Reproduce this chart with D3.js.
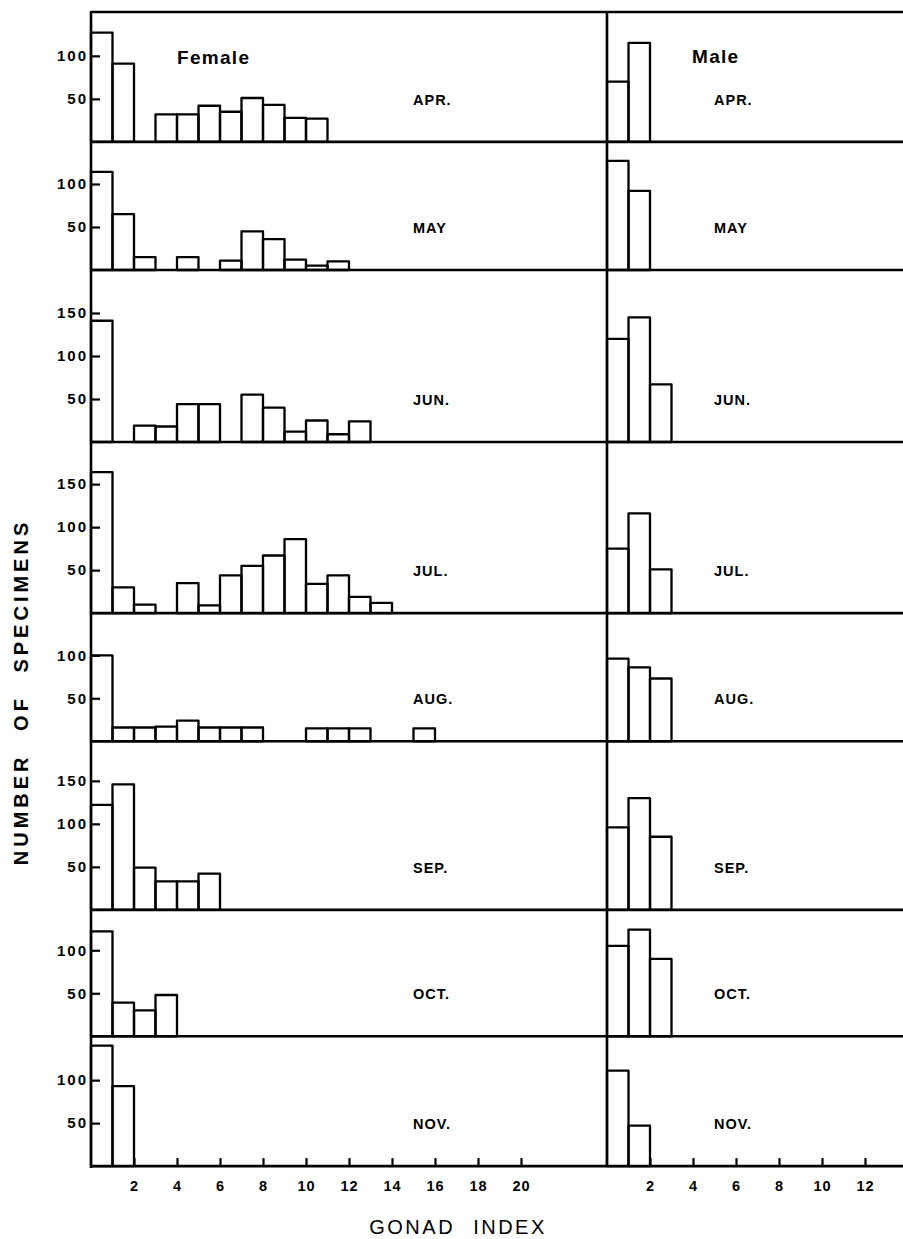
<!DOCTYPE html>
<html>
<head>
<meta charset="utf-8">
<script src="https://cdn.jsdelivr.net/npm/d3@7"></script>
<style>
  body { margin: 0; background: #fff; }
  svg { display: block; }
  text { font-family: "Liberation Sans", Arial, Helvetica, sans-serif; fill: #000; }
</style>
</head>
<body>
<script>
// Monthly frequency of gonad index classes (bin i = index i..i+1)
const months = ["APR.", "MAY", "JUN.", "JUL.", "AUG.", "SEP.", "OCT.", "NOV."];

const femaleApr = [127, 91, 0, 32, 32, 42, 35, 51, 43, 28, 27];
const femaleMay = [114, 65, 15, 0, 15, 0, 11, 45, 36, 12, 5, 10];
const femaleJun = [141, 0, 19, 18, 44, 44, 0, 55, 40, 12, 25, 9, 24];
const femaleJul = [164, 30, 10, 0, 35, 9, 44, 55, 67, 86, 34, 44, 19, 12];
const femaleAug = [100, 16, 16, 17, 24, 16, 16, 16, 0, 0, 15, 15, 15, 0, 0, 15];
const femaleSep = [122, 146, 49, 33, 33, 42];
const femaleOct = [122, 39, 30, 48];
const femaleNov = [140, 93];

const maleApr = [70, 115];
const maleMay = [127, 92];
const maleJun = [120, 145, 67];
const maleJul = [75, 116, 51];
const maleAug = [96, 86, 73];
const maleSep = [96, 130, 85];
const maleOct = [105, 124, 90];
const maleNov = [111, 47];

// Upper end of each month's count axis
const yMax = [151, 149, 200, 199, 149, 196, 147, 151];
const yTickValues = [[50, 100], [50, 100], [50, 100, 150], [50, 100, 150],
                     [50, 100], [50, 100, 150], [50, 100], [50, 100]];
const femaleXTicks = [2, 4, 6, 8, 10, 12, 14, 16, 18, 20];
const maleXTicks = [2, 4, 6, 8, 10, 12];

const femaleCounts = [femaleApr, femaleMay, femaleJun, femaleJul, femaleAug, femaleSep, femaleOct, femaleNov];
const maleCounts = [maleApr, maleMay, maleJun, maleJul, maleAug, maleSep, maleOct, maleNov];

// ---- layout ----
const W = 903, H = 1239;
const frameTop = 12, pxPerCount = 0.86;
const left = 91, split = 607, right = W;

const xF = d3.scaleLinear().domain([0, 24]).range([left, split]);
const xM = d3.scaleLinear().domain([0, (right - split) / 21.5]).range([split, right]);

const svg = d3.select("body").append("svg").attr("width", W).attr("height", H);

// row positions
const rows = [];
let cursor = frameTop;
yMax.forEach((m, i) => {
  const h = m * pxPerCount;
  rows.push({ i, rowTop: cursor, bottom: cursor + h,
              y: d3.scaleLinear().domain([0, m]).range([cursor + h, cursor]) });
  cursor += h;
});
const lastBottom = rows[rows.length - 1].bottom;

function drawBars(g, counts, x, y, bottom) {
  const bins = counts.map((v, k) => ({ k, v })).filter(d => d.v > 0);
  g.selectAll("rect").data(bins).join("rect")
    .attr("x", d => x(d.k))
    .attr("width", d => x(d.k + 1) - x(d.k))
    .attr("y", d => y(d.v))
    .attr("height", d => bottom - y(d.v))
    .attr("fill", "none")
    .attr("stroke", "#000")
    .attr("stroke-width", 2.3)
    .attr("stroke-linejoin", "round");
}

rows.forEach(r => {
  const g = svg.append("g");
  drawBars(g.append("g"), femaleCounts[r.i], xF, r.y, r.bottom);
  drawBars(g.append("g"), maleCounts[r.i], xM, r.y, r.bottom);

  // count axis: ticks point inward, labels outside
  const ax = g.append("g")
    .attr("transform", `translate(${left},0)`)
    .call(d3.axisLeft(r.y).tickValues(yTickValues[r.i]).tickSize(-9).tickPadding(3));
  ax.select(".domain").remove();
  ax.selectAll(".tick line").attr("stroke", "#000").attr("stroke-width", 2.2);
  ax.selectAll(".tick text")
    .attr("font-size", 15).attr("font-weight", "bold")
    .attr("letter-spacing", "2px").attr("fill", "#000");

  // month labels
  g.append("text").attr("x", 413).attr("y", r.y(50) + 6)
    .attr("font-size", 14.5).attr("font-weight", "bold").attr("letter-spacing", "1px")
    .text(months[r.i]);
  g.append("text").attr("x", 714).attr("y", r.y(50) + 6)
    .attr("font-size", 14.5).attr("font-weight", "bold").attr("letter-spacing", "1px")
    .text(months[r.i]);
});

// frame: top line, row separators, left axis and panel divider
const frame = svg.append("g").attr("stroke", "#000").attr("stroke-width", 2.6);
frame.append("line").attr("x1", left).attr("x2", right).attr("y1", frameTop).attr("y2", frameTop);
rows.forEach(r => {
  frame.append("line").attr("x1", left).attr("x2", right).attr("y1", r.bottom).attr("y2", r.bottom);
});
frame.append("line").attr("x1", left).attr("x2", left).attr("y1", frameTop - 1).attr("y2", lastBottom + 2);
frame.append("line").attr("x1", split).attr("x2", split).attr("y1", frameTop - 1).attr("y2", lastBottom + 1);

// gonad index axes along the bottom row
function bottomAxis(x, ticks) {
  const a = svg.append("g")
    .attr("transform", `translate(0,${lastBottom})`)
    .call(d3.axisBottom(x).tickValues(ticks).tickSize(-8).tickPadding(15));
  a.select(".domain").remove();
  a.selectAll(".tick line").attr("stroke", "#000").attr("stroke-width", 2.2);
  a.selectAll(".tick text")
    .attr("font-size", 14.5).attr("font-weight", "bold")
    .attr("letter-spacing", "1px").attr("fill", "#000");
}
bottomAxis(xF, femaleXTicks);
bottomAxis(xM, maleXTicks);

// panel titles
svg.append("text").attr("x", 177).attr("y", 64)
  .attr("font-size", 19).attr("font-weight", "bold").attr("letter-spacing", "1.3px")
  .text("Female");
svg.append("text").attr("x", 692).attr("y", 63)
  .attr("font-size", 19).attr("font-weight", "bold").attr("letter-spacing", "1.3px")
  .text("Male");

// axis titles
svg.append("text")
  .attr("x", 458).attr("y", 1234)
  .attr("text-anchor", "middle")
  .attr("font-size", 20).attr("letter-spacing", "2.5px").attr("word-spacing", "10px")
  .text("GONAD INDEX");

svg.append("text")
  .attr("transform", "translate(28,692) rotate(-90)")
  .attr("text-anchor", "middle")
  .attr("font-size", 20).attr("font-weight", "bold")
  .attr("letter-spacing", "4px").attr("word-spacing", "13px")
  .text("NUMBER OF SPECIMENS");
</script>
</body>
</html>
